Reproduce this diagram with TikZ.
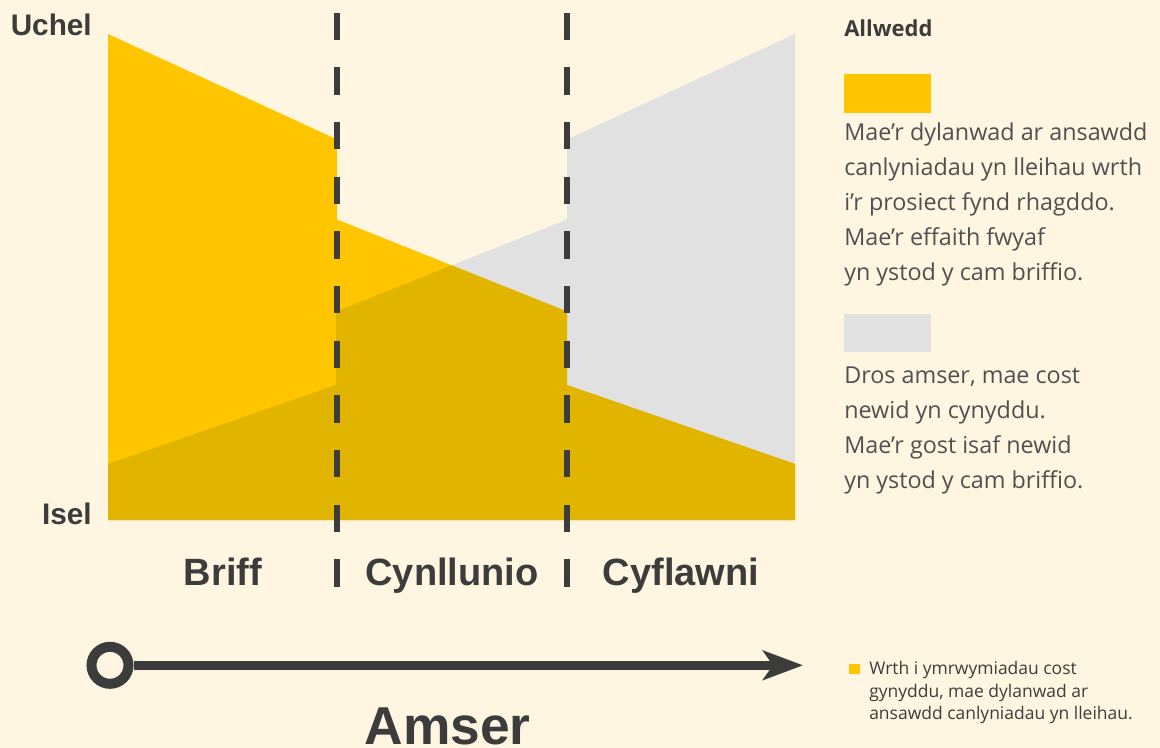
\documentclass[tikz,border=0pt]{standalone}
\usepackage{fontspec}
\setmainfont{Liberation Sans}
\newfontfamily\keyfont{Open Sans}
\usetikzlibrary{arrows.meta}

\definecolor{bgcream}{HTML}{FFF6E2}
\definecolor{qualyellow}{HTML}{FFC600}
\definecolor{costgrey}{HTML}{E1E1E1}
\definecolor{overlapgold}{HTML}{E1B400}
\definecolor{inkgrey}{HTML}{3C3C3C}
\definecolor{keygrey}{HTML}{505050}

\newcommand{\qualitypath}{(108,34) -- (337,139.5) -- (337,219.5) -- (567,311.5) -- (567,385) -- (795,464) -- (795,520) -- (108,520) -- cycle}
\newcommand{\costpath}{(108,464) -- (336,385) -- (336,311.5) -- (567,219.5) -- (567,139.5) -- (795,34) -- (795,520) -- (108,520) -- cycle}

\tikzset{
  level/.style={font=\bfseries\fontsize{22.3}{27}\selectfont, text=inkgrey, inner sep=0, anchor=base east},
  phase/.style={font=\bfseries\fontsize{28.5}{34}\selectfont, text=inkgrey, inner sep=0, anchor=base},
  divider/.style={draw=inkgrey, line width=4.5pt, dash pattern=on 20.5pt off 20.5pt},
  swatch/.style={inner sep=0, minimum width=65.25pt, minimum height=29pt, anchor=north west},
  keytext/.style={font=\keyfont\fontsize{17.5}{26.25}\selectfont, text=keygrey, align=left, inner sep=0, anchor=north west},
  notetext/.style={font=\keyfont\fontsize{13.1}{16.9}\selectfont, text=inkgrey, align=left, inner sep=0, anchor=north west},
}

\begin{document}
\begin{tikzpicture}[x=0.75pt, y=-0.75pt]
  \useasboundingbox (0,0) rectangle (1160,748);
  \fill[bgcream] (0,0) rectangle (1160,748);

  \fill[costgrey] \costpath;
  \fill[qualyellow] \qualitypath;
  \begin{scope}
    \clip \costpath;
    \fill[overlapgold] \qualitypath;
  \end{scope}

  \foreach \x in {337,567}
    \draw[divider] (\x,12.7) -- (\x,587);

  \node[level] (uchel) at (92,36) {Uchel};
  \node[level] (isel) at (92,524) {Isel};

  \node[phase] (briff) at (223,585) {Briff};
  \node[phase] (cynllunio) at (452,585) {Cynllunio};
  \node[phase] (cyflawni) at (681,585) {Cyflawni};

  \node[draw=inkgrey, circle, line width=7.5pt, minimum size=27.75pt, inner sep=0] (tstart) at (110,665.3) {};
  \coordinate (tend) at (803,665.3);
  \draw[inkgrey, line width=6.75pt, -{Stealth[length=30pt, width=22pt, inset=7.5pt]}] (tstart) -- (tend);
  \node[font=\bfseries\fontsize{40}{48}\selectfont, text=inkgrey, inner sep=0, anchor=base] (amser) at (447.5,744) {Amser};

  \node[font=\keyfont\bfseries\fontsize{16.5}{20}\selectfont, text=inkgrey, inner sep=0, anchor=base west] (allwedd) at (844,36.7) {Allwedd};
  \node[swatch, fill=qualyellow] (qualkey) at (844,74) {};
  \node[keytext] (qualnote) at (844,122.2) {Mae’r dylanwad ar ansawdd\\canlyniadau yn lleihau wrth\\i’r prosiect fynd rhagddo.\\Mae’r effaith fwyaf\\yn ystod y cam briffio.};
  \node[swatch, fill=costgrey] (costkey) at (844,313.3) {};
  \node[keytext] (costnote) at (844,366.6) {Dros amser, mae cost\\newid yn cynyddu.\\Mae’r gost isaf newid\\yn ystod y cam briffio.};

  \node[fill=qualyellow, minimum width=8.25pt, minimum height=7.5pt, inner sep=0, anchor=north west] (notemark) at (848.3,664) {};
  \node[notetext] (footnote) at (869,661.1) {Wrth i ymrwymiadau cost\\gynyddu, mae dylanwad ar\\ansawdd canlyniadau yn lleihau.};
\end{tikzpicture}
\end{document}
